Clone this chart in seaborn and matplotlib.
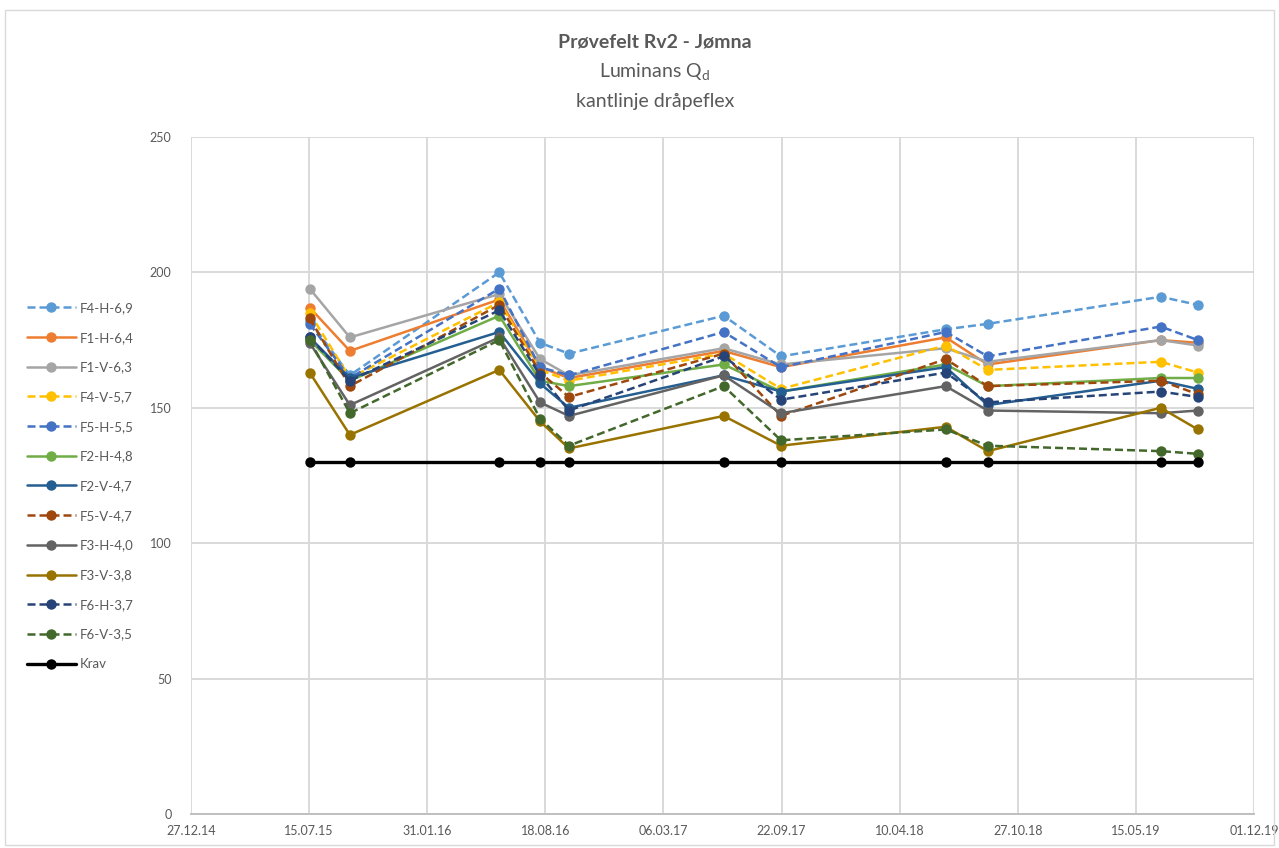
import pandas as pd
import seaborn as sns
import matplotlib.dates as mdates
from matplotlib import pyplot as plt
from matplotlib.lines import Line2D

# measurement dates
dates = pd.to_datetime(['2015-07-16', '2015-09-22', '2016-06-01', '2016-08-09', '2016-09-27',
                        '2017-06-16', '2017-09-21', '2018-06-27', '2018-09-06', '2019-06-26',
                        '2019-08-28'])

# Qd values per test field
f4_h = [182, 162, 200, 174, 170, 184, 169, 179, 181, 191, 188]
f1_h = [187, 171, 190, 165, 161, 171, 165, 176, 166, 175, 174]
f1_v = [194, 176, 192, 168, 162, 172, 166, 172, 167, 175, 173]
f4_v = [185, 161, 189, 164, 160, 170, 157, 173, 164, 167, 163]
f5_h = [181, 161, 194, 165, 162, 178, 165, 178, 169, 180, 175]
f2_h = [175, 160, 184, 160, 158, 166, 156, 166, 158, 161, 161]
f2_v = [176, 161, 178, 159, 150, 162, 156, 165, 151, 160, 157]
f5_v = [183, 158, 188, 163, 154, 170, 147, 168, 158, 160, 155]
f3_h = [174, 151, 176, 152, 147, 162, 148, 158, 149, 148, 149]
f3_v = [163, 140, 164, 145, 135, 147, 136, 143, 134, 150, 142]
f6_h = [176, 160, 186, 162, 149, 169, 153, 163, 152, 156, 154]
f6_v = [175, 148, 175, 146, 136, 158, 138, 142, 136, 134, 133]
krav = [130] * 11

series = {'F4-H-6,9': f4_h, 'F1-H-6,4': f1_h, 'F1-V-6,3': f1_v, 'F4-V-5,7': f4_v,
          'F5-H-5,5': f5_h, 'F2-H-4,8': f2_h, 'F2-V-4,7': f2_v, 'F5-V-4,7': f5_v,
          'F3-H-4,0': f3_h, 'F3-V-3,8': f3_v, 'F6-H-3,7': f6_h, 'F6-V-3,5': f6_v,
          'Krav': krav}

colors = {'F4-H-6,9': '#5B9BD5', 'F1-H-6,4': '#ED7D31', 'F1-V-6,3': '#A5A5A5',
          'F4-V-5,7': '#FFC000', 'F5-H-5,5': '#4472C4', 'F2-H-4,8': '#70AD47',
          'F2-V-4,7': '#255E91', 'F5-V-4,7': '#9E480E', 'F3-H-4,0': '#636363',
          'F3-V-3,8': '#997300', 'F6-H-3,7': '#264478', 'F6-V-3,5': '#43682B',
          'Krav': '#000000'}
dashed = ['F4-H-6,9', 'F4-V-5,7', 'F5-H-5,5', 'F5-V-4,7', 'F6-H-3,7', 'F6-V-3,5']

rows = []
for name, vals in series.items():
    for d, v in zip(dates, vals):
        rows.append({'Dato': d, 'Qd': v, 'Serie': name})
df = pd.DataFrame(rows)

sns.set_style('white')
plt.rcParams['font.family'] = ['Lato', 'DejaVu Sans']

fig = plt.figure(figsize=(12.79, 8.48), dpi=100)
ax = fig.add_axes([191/1279, 1-814/848, (1254-191)/1279, (814-137)/848])

lw = 1.8
ms = 7.5
dash = (3.2, 1.6)
dash_map = {n: (dash if n in dashed else '') for n in series}
sns.lineplot(data=df, x='Dato', y='Qd', hue='Serie', style='Serie',
             palette=colors, dashes=dash_map, markers={n: 'o' for n in series},
             markersize=ms, markeredgewidth=0, linewidth=lw, legend=False, ax=ax)
# Krav drawn a bit heavier
ax.lines[-1].set_linewidth(2.4)

start = pd.Timestamp('2014-12-27')
ticks = pd.date_range(start, periods=10, freq='200D')
ax.set_xticks(ticks)
ax.xaxis.set_major_formatter(mdates.DateFormatter('%d.%m.%y'))
ax.set_xlim(ticks[0], ticks[-1])
ax.set_ylim(0, 250)
ax.set_yticks(range(0, 251, 50))
ax.grid(True, color='#d9d9d9', linewidth=1.4)
ax.set_axisbelow(True)
for s in ['top', 'right', 'left']:
    ax.spines[s].set_visible(False)
ax.spines['bottom'].set_color('#bfbfbf')
ax.spines['bottom'].set_linewidth(1.4)
ax.tick_params(axis='both', length=0, labelsize=9, labelcolor='#595959')
ax.tick_params(axis='y', pad=14)
ax.tick_params(axis='x', pad=8)
ax.set_xlabel('')
ax.set_ylabel('')

fig.text(0.512, 1-42/848, 'Prøvefelt Rv2 - Jømna', ha='center', va='center',
         fontsize=14, fontweight='bold', color='#595959')
fig.text(0.512, 1-72/848, 'Luminans Q$_\\mathregular{d}$', ha='center', va='center',
         fontsize=14, color='#595959')
fig.text(0.512, 1-101/848, 'kantlinje dråpeflex', ha='center', va='center',
         fontsize=14, color='#595959')

handles = []
for name in series:
    handles.append(Line2D([], [], color=colors[name], marker='o', markersize=ms,
                          markeredgewidth=0, linewidth=2.4 if name == 'Krav' else lw,
                          linestyle='--' if name in dashed else '-',
                          dashes=dash if name in dashed else (None, None)))
leg = fig.legend(handles, list(series), loc='upper left', bbox_to_anchor=(0.021, 1-302/848),
                 frameon=False, fontsize=9.5, handlelength=3.7, labelspacing=1.34,
                 borderaxespad=0, borderpad=0, handletextpad=0.3)
for t in leg.get_texts():
    t.set_color('#595959')

fig.patches.append(plt.Rectangle((0.004, 0.004), 0.992, 0.984, transform=fig.transFigure,
                                 fill=False, edgecolor='#d9d9d9', linewidth=1))

fig.savefig('out.png', dpi=100)
